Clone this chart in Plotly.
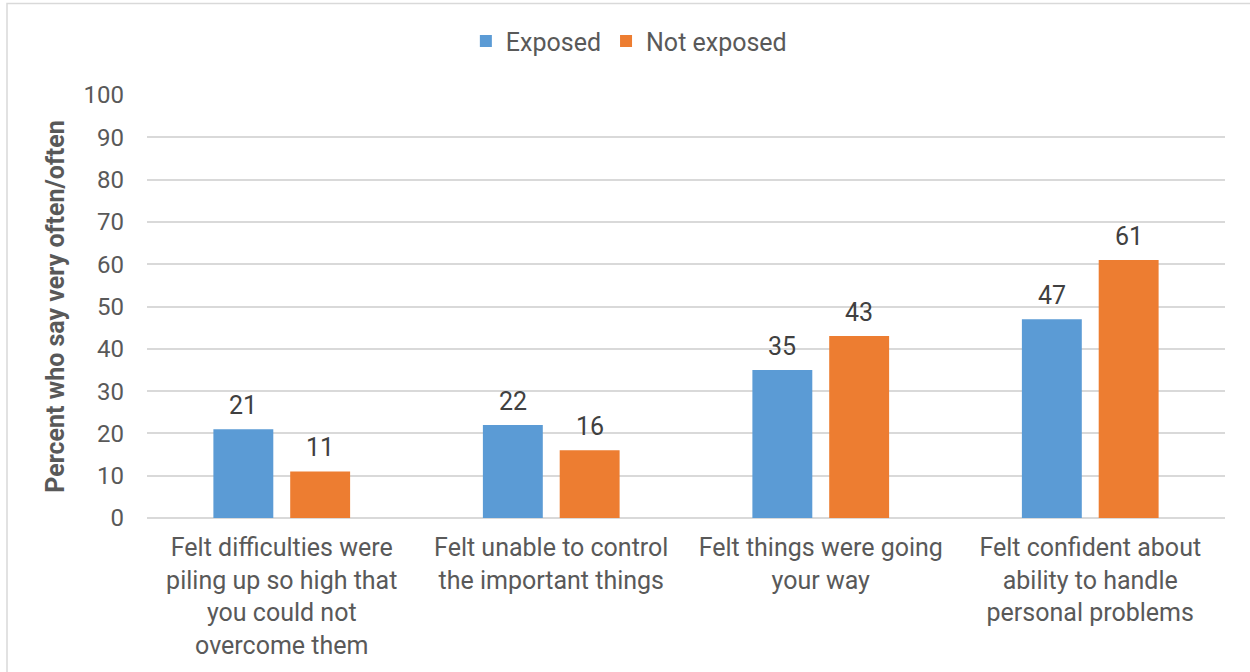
import plotly.graph_objects as go

categories = [
    "Felt difficulties were<br>piling up so high that<br>you could not<br>overcome them",
    "Felt unable to control<br>the important things",
    "Felt things were going<br>your way",
    "Felt confident about<br>ability to handle<br>personal problems",
]
exposed = [21, 22, 35, 47]
not_exposed = [11, 16, 43, 61]
series_names = ["Exposed", "Not exposed"]
colors = ["#5B9BD5", "#ED7D31"]
y_ticks = list(range(0, 101, 10))

FONT = "Roboto"
GREY = "#595959"

fig = go.Figure()
for name, vals, col in zip(series_names, [exposed, not_exposed], colors):
    fig.add_trace(go.Bar(x=categories, y=vals, name=name, marker_color=col,
                         marker_line_width=0, hoverinfo="skip"))

# data labels
slot_px = 38.5
for i, vals in enumerate([exposed, not_exposed]):
    shift = -slot_px if i == 0 else slot_px
    for c, v in zip(categories, vals):
        fig.add_annotation(x=c, y=v, text=str(v), showarrow=False,
                           xshift=shift, yshift=7, yanchor="bottom",
                           font=dict(family=FONT, size=25, color="#404040"))

fig.update_layout(
    width=1250, height=672,
    margin=dict(l=147, r=25, t=95, b=152),
    paper_bgcolor="white", plot_bgcolor="white",
    barmode="group", bargap=0.43, bargroupgap=0.22,
    font=dict(family=FONT, size=24, color=GREY),
    legend=dict(orientation="h", x=0.447, xanchor="center", y=1.127, yanchor="middle",
                font=dict(family=FONT, size=25, color=GREY),
                itemwidth=30, tracegroupgap=0),
    showlegend=True,
    xaxis=dict(showgrid=False, showline=False, ticks="", ticklabelstandoff=12,
               tickfont=dict(family=FONT, size=25, color=GREY)),
    yaxis=dict(range=[0, 100], tickvals=y_ticks, showgrid=True,
               gridcolor="#D9D9D9", gridwidth=1.5, zeroline=True,
               zerolinecolor="#D9D9D9", zerolinewidth=1.5,
               ticks="", ticklabelstandoff=22,
               tickfont=dict(family=FONT, size=24, color=GREY),
               title=dict(text="<b>Percent who say very often/often</b>",
                          font=dict(family=FONT, size=25, color=GREY), standoff=11)),
    shapes=[dict(type="rect", xref="paper", yref="paper",
                 x0=(7 - 147) / 1078, x1=(1260 - 147) / 1078,
                 y0=(520 - 690) / 425, y1=(520 - 3) / 425,
                 line=dict(color="#D9D9D9", width=1.5), fillcolor="rgba(0,0,0,0)",
                 layer="below")],
)

fig.write_html("out.html")
